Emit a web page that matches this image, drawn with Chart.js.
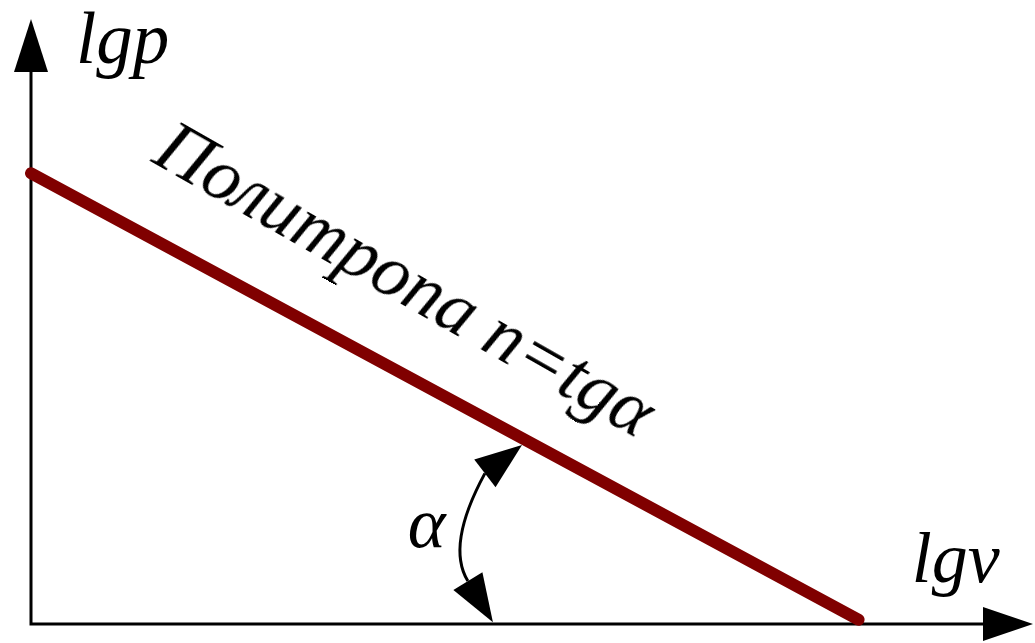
<!DOCTYPE html>
<html>
<head>
<meta charset="utf-8">
<script src="https://cdn.jsdelivr.net/npm/chart.js@4/dist/chart.umd.min.js"></script>
<style>
  body { margin: 0; background: #ffffff; }
  #wrap { position: relative; width: 1035px; height: 643px; overflow: hidden; }
  #c { position: absolute; left: 0; top: 0; }
  .lbl {
    position: absolute;
    font-family: 'Liberation Serif', Tinos, 'Times New Roman', serif;
    font-style: italic;
    font-weight: normal;
    line-height: 1;
    white-space: nowrap;
    color: #000000;
    transform-origin: 0 0.84em;
  }
</style>
</head>
<body>
<div id="wrap"><canvas id="c" width="1035" height="643"></canvas></div>
<script>
// Polytrope in logarithmic coordinates: a straight line lg p = f(lg v)
const lgv = [0, 8.26];
const lgp = [7.45, 0.07];

// Axis ranges and titles
const xRange = [0, 10];
const yRange = [0, 10];
const xTitle = 'lgv';
const yTitle = 'lgp';
const lineLabel = 'Политропа n=tgα';
const angleLabel = 'α';

const INK = '#000000';
const LINE_COLOR = '#800000';
const BASELINE = 0.84; // baseline position inside a line box of height 1em

function arrowHead(ctx, tip, base, half) {
  const dx = tip.x - base.x, dy = tip.y - base.y;
  const len = Math.hypot(dx, dy);
  const nx = -dy / len, ny = dx / len;
  ctx.beginPath();
  ctx.moveTo(tip.x, tip.y);
  ctx.lineTo(base.x + nx * half, base.y + ny * half);
  ctx.lineTo(base.x - nx * half, base.y - ny * half);
  ctx.closePath();
  ctx.fill();
}

// Axes with arrowheads, drawn beneath the polytrope
const axesPlugin = {
  id: 'axesWithArrows',
  beforeDatasetsDraw(chart) {
    const { ctx, scales: { x, y } } = chart;
    const x0 = x.getPixelForValue(xRange[0]);
    const x1 = x.getPixelForValue(xRange[1]);
    const y0 = y.getPixelForValue(yRange[0]);
    const y1 = y.getPixelForValue(yRange[1]);
    ctx.save();
    ctx.strokeStyle = INK;
    ctx.fillStyle = INK;
    ctx.lineWidth = 3;
    ctx.beginPath();
    ctx.moveTo(x0, y0 + 1.5);
    ctx.lineTo(x0, y1 + 20);
    ctx.moveTo(x0 - 1.5, y0);
    ctx.lineTo(x1 - 20, y0);
    ctx.stroke();
    arrowHead(ctx, { x: x0, y: y1 }, { x: x0, y: y1 + 53 }, 17);
    arrowHead(ctx, { x: x1, y: y0 }, { x: x1 - 50, y: y0 }, 17);
    ctx.restore();
  }
};

// Angle mark: a curved double arrow between the axis and the line
const anglePlugin = {
  id: 'angleMark',
  afterDatasetsDraw(chart) {
    const { ctx, scales: { x, y } } = chart;
    const px = v => x.getPixelForValue(v);
    const py = v => y.getPixelForValue(v);
    const a = { x: px(4.53), y: py(2.49) };
    const c = { x: px(4.14), y: py(1.30) };
    const b = { x: px(4.36), y: py(0.71) };
    ctx.save();
    ctx.strokeStyle = INK;
    ctx.fillStyle = INK;
    ctx.lineWidth = 3;
    ctx.beginPath();
    ctx.moveTo(a.x, a.y);
    ctx.quadraticCurveTo(c.x, c.y, b.x, b.y);
    ctx.stroke();
    arrowHead(ctx, { x: px(4.90), y: py(2.96) }, a, 17.5);
    arrowHead(ctx, { x: px(4.61), y: py(0.03) }, b, 17);
    ctx.restore();
  }
};

// Text labels as page elements placed through the chart scales
const labelPlugin = {
  id: 'textLabels',
  afterDraw(chart) {
    const { scales: { x, y } } = chart;
    const px = v => x.getPixelForValue(v);
    const py = v => y.getPixelForValue(v);
    const wrap = document.getElementById('wrap');
    const lineAngle = Math.atan2(py(lgp[1]) - py(lgp[0]), px(lgv[1]) - px(lgv[0]));
    const items = [
      { key: 'yTitle', text: yTitle, x: px(0.45), y: py(9.27), size: 73, angle: 0 },
      { key: 'xTitle', text: xTitle, x: px(8.79), y: py(0.68), size: 72, angle: 0 },
      { key: 'alpha', text: angleLabel, x: px(3.76), y: py(1.26), size: 72, angle: 0 },
      { key: 'caption', text: lineLabel, x: px(1.19), y: py(7.65), size: 74,
        angle: lineAngle + 1.3 * Math.PI / 180 }
    ];
    items.forEach(it => {
      let el = document.getElementById('lbl-' + it.key);
      if (!el) {
        el = document.createElement('div');
        el.id = 'lbl-' + it.key;
        el.className = 'lbl';
        el.textContent = it.text;
        wrap.appendChild(el);
      }
      el.style.fontSize = it.size + 'px';
      el.style.left = it.x + 'px';
      el.style.top = (it.y - BASELINE * it.size) + 'px';
      el.style.transform = it.angle ? 'rotate(' + it.angle + 'rad)' : 'none';
    });
  }
};

new Chart(document.getElementById('c'), {
  type: 'scatter',
  data: {
    datasets: [{
      label: lineLabel,
      data: lgv.map((v, i) => ({ x: v, y: lgp[i] })),
      showLine: true,
      borderColor: LINE_COLOR,
      backgroundColor: LINE_COLOR,
      borderWidth: 12,
      borderCapStyle: 'round',
      pointRadius: 0,
      clip: false
    }]
  },
  options: {
    responsive: false,
    animation: false,
    layout: { padding: { left: 31, right: 2, top: 19, bottom: 19 } },
    plugins: { legend: { display: false }, tooltip: { enabled: false } },
    scales: {
      x: { type: 'linear', min: xRange[0], max: xRange[1], display: false },
      y: { type: 'linear', min: yRange[0], max: yRange[1], display: false }
    }
  },
  plugins: [axesPlugin, anglePlugin, labelPlugin]
});
</script>
</body>
</html>
